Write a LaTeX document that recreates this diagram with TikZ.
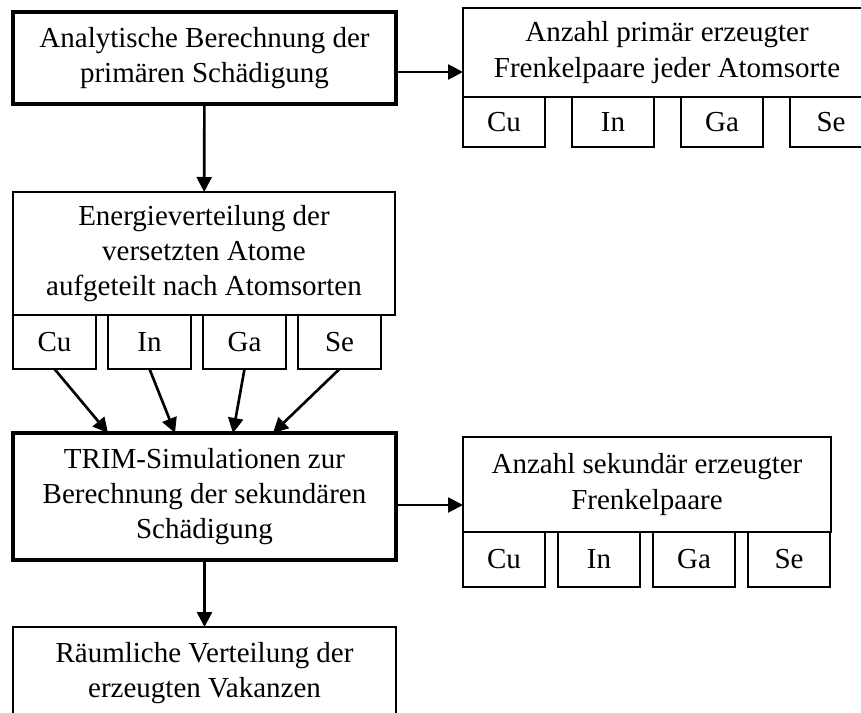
\documentclass[tikz,border=0pt]{standalone}
\usepackage{fontspec}
\setmainfont{Liberation Serif}
\usetikzlibrary{positioning,arrows.meta}

\begin{document}
\begin{tikzpicture}[every node/.style={font=\fontsize{16.5}{20}\selectfont, align=center, inner sep=0pt, outer sep=0pt},
  box/.style={draw, line width=1.3pt, fill=white},
  mainbox/.style={box, line width=2.6pt, minimum width=76.6mm},
  elem/.style={box, minimum width=16.4mm, minimum height=10mm},
  arr/.style={-{Triangle[length=3mm, width=3mm]}, line width=1.5pt}]
\useasboundingbox (0,0) rectangle (17.22,-14.26);
\node[mainbox, minimum height=18.4mm] (ana) at (4.09,-1.16) {Analytische Berechnung der\\primären Schädigung};
\node[box, minimum width=81.6mm, minimum height=17.8mm] (prim) at (13.34,-1.05) {Anzahl primär erzeugter\\Frenkelpaare jeder Atomsorte};
\node[elem, anchor=north west] (pcu) at (prim.south west) {Cu};
\node[elem, right=5.4mm of pcu] (pin) {In};
\node[elem, right=5.4mm of pin] (pga) {Ga};
\node[elem, right=5.4mm of pga] (pse) {Se};
\node[box, minimum width=76.4mm, minimum height=24.6mm] (energie) at (4.08,-5.07) {Energieverteilung der\\versetzten Atome\\aufgeteilt nach Atomsorten};
\node[elem, minimum width=16.6mm, minimum height=10.8mm, anchor=north west] (ecu) at (energie.south west) {Cu};
\node[elem, minimum width=16.6mm, minimum height=10.8mm, right=2.4mm of ecu] (ein) {In};
\node[elem, minimum width=16.6mm, minimum height=10.8mm, right=2.4mm of ein] (ega) {Ga};
\node[elem, minimum width=16.6mm, minimum height=10.8mm, right=2.4mm of ega] (ese) {Se};
\node[mainbox, minimum height=25.4mm] (trim) at (4.09,-9.93) {TRIM-Simulationen zur\\Berechnung der sekundären\\Schädigung};
\node[box, minimum width=73.6mm, minimum height=19mm] (sek) at (12.94,-9.69) {Anzahl sekundär erzeugter\\Frenkelpaare};
\node[elem, minimum height=11mm, anchor=north west] (scu) at (sek.south west) {Cu};
\node[elem, minimum height=11mm, right=2.6mm of scu] (sin) {In};
\node[elem, minimum height=11mm, right=2.6mm of sin] (sga) {Ga};
\node[elem, minimum height=11mm, right=2.6mm of sga] (sse) {Se};
\node[box, minimum width=76.6mm, minimum height=18.4mm] (raum) at (4.09,-13.46) {Räumliche Verteilung der\\erzeugten Vakanzen};
\draw[arr] ([yshift=-2.8mm]ana.east) -- ([yshift=-2.8mm]ana.east -| prim.west);
\draw[arr] (ana) -- (energie);
\draw[arr] (ecu.south) -- ([xshift=19mm]trim.north west);
\draw[arr] (ein.south) -- ([xshift=32.4mm]trim.north west);
\draw[arr] (ega.south) -- ([xshift=44mm]trim.north west);
\draw[arr] (ese.south) -- ([xshift=52mm]trim.north west);
\draw[arr] ([yshift=-1.7mm]trim.east) -- ([yshift=-1.7mm]trim.east -| sek.west);
\draw[arr] (trim) -- (raum);
\end{tikzpicture}
\end{document}
